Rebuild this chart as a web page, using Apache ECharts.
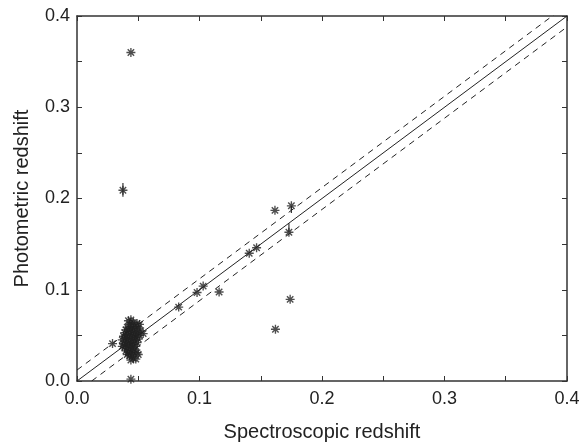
<!DOCTYPE html>
<html><head><meta charset="utf-8">
<script src="https://cdn.jsdelivr.net/npm/echarts@6/dist/echarts.min.js"></script>
<style>html,body{margin:0;padding:0;background:#fff}#c{width:580px;height:447px}</style>
</head><body><div id="c"></div>
<script>
// Outlying / individual points [spec z, photo z]
const isolatedPoints = [
  [0.044, 0.360], [0.0375, 0.209], [0.1616, 0.187], [0.175, 0.192], [0.173, 0.163],
  [0.1466, 0.146], [0.1406, 0.140], [0.103, 0.104], [0.098, 0.097], [0.116, 0.0975],
  [0.083, 0.081], [0.174, 0.0895], [0.162, 0.0567], [0.029, 0.041], [0.044, 0.002],
  [0.054, 0.052], [0.048, 0.024]
];
// Dense cluster near z ~ 0.04-0.05
const clusterPoints = [
  [0.042, 0.066], [0.044, 0.067], [0.046, 0.064], [0.049, 0.063], [0.051, 0.062],
  [0.043, 0.062], [0.045, 0.060], [0.047, 0.060], [0.041, 0.059], [0.050, 0.058],
  [0.040, 0.056], [0.042, 0.056], [0.044, 0.057], [0.046, 0.055], [0.048, 0.056],
  [0.039, 0.053], [0.041, 0.052], [0.043, 0.053], [0.045, 0.052], [0.047, 0.051],
  [0.049, 0.053], [0.051, 0.050], [0.038, 0.049], [0.040, 0.048], [0.042, 0.049],
  [0.044, 0.048], [0.046, 0.047], [0.048, 0.048], [0.050, 0.046], [0.037, 0.045],
  [0.039, 0.044], [0.041, 0.045], [0.043, 0.044], [0.045, 0.043], [0.047, 0.044],
  [0.049, 0.042], [0.038, 0.041], [0.040, 0.040], [0.042, 0.041], [0.044, 0.039],
  [0.046, 0.040], [0.048, 0.038], [0.039, 0.037], [0.041, 0.036], [0.043, 0.035],
  [0.045, 0.036], [0.047, 0.034], [0.040, 0.033], [0.042, 0.032], [0.044, 0.031],
  [0.046, 0.032], [0.049, 0.031], [0.041, 0.029], [0.043, 0.028], [0.045, 0.027],
  [0.050, 0.029], [0.046, 0.025], [0.044, 0.023], [0.052, 0.055], [0.037, 0.038]
];
// Error bars [x, yLow, yHigh]
const errorBars = [
  [0.0375, 0.202, 0.217], [0.175, 0.184, 0.192], [0.173, 0.163, 0.173]
];
const oneToOne = [[0, 0], [0.4, 0.4]];
const upperBound = [[0, 0.012], [0.4, 0.412]];
const lowerBound = [[0.012, 0], [0.4, 0.388]];
const tickLabels = ['0.0', '0.1', '0.2', '0.3', '0.4'];

const star = 'path://M-0.15,-1 L0.15,-1 L0.15,1 L-0.15,1 Z M-1,-0.15 L1,-0.15 L1,0.15 L-1,0.15 Z M-0.82,-0.6 L-0.6,-0.82 L0.82,0.6 L0.6,0.82 Z M0.6,-0.82 L0.82,-0.6 L-0.6,0.82 L-0.82,0.6 Z';
const axisCol = '#333';
function fmt(v){ const i = Math.round(v*10); return Math.abs(v*10 - i) < 1e-6 ? tickLabels[i] : ''; }
const common = {
  min: 0, max: 0.4, interval: 0.05,
  axisLine: {show: true, onZero: false, lineStyle: {color: axisCol, width: 1.5}},
  axisTick: {show: true, inside: true, length: 5, lineStyle: {color: axisCol}},
  splitLine: {show: false}
};
const chart = echarts.init(document.getElementById('c'));
chart.setOption({
  animation: false,
  grid: {left: 77, right: 13, top: 16, bottom: 66, containLabel: false, outerBoundsMode: 'none'},
  xAxis: [
    Object.assign({type: 'value', position: 'bottom', name: 'Spectroscopic redshift',
      nameLocation: 'middle', nameGap: 41,
      nameTextStyle: {fontFamily: 'Liberation Sans', fontSize: 20, color: '#222'},
      axisLabel: {formatter: fmt, fontFamily: 'Liberation Sans', fontSize: 18, color: '#222', margin: 9}}, common),
    Object.assign({type: 'value', position: 'top', axisLabel: {show: false}}, common)
  ],
  yAxis: [
    Object.assign({type: 'value', position: 'left', name: 'Photometric redshift',
      nameLocation: 'middle', nameGap: 45,
      nameTextStyle: {fontFamily: 'Liberation Sans', fontSize: 20, color: '#222'},
      axisLabel: {formatter: fmt, fontFamily: 'Liberation Sans', fontSize: 18, color: '#222', margin: 7}}, common),
    Object.assign({type: 'value', position: 'right', axisLabel: {show: false}}, common)
  ],
  series: [
    {type: 'line', data: oneToOne, symbol: 'none', clip: true, lineStyle: {color: '#222', width: 1}},
    {type: 'line', data: upperBound, symbol: 'none', clip: true, lineStyle: {color: '#222', width: 1, type: [6, 5]}},
    {type: 'line', data: lowerBound, symbol: 'none', clip: true, lineStyle: {color: '#222', width: 1, type: [6, 5]}},
    {type: 'custom', data: errorBars, clip: true,
      renderItem: function(params, api){
        const a = api.coord([api.value(0), api.value(1)]);
        const b = api.coord([api.value(0), api.value(2)]);
        return {type: 'line', shape: {x1: a[0], y1: a[1], x2: b[0], y2: b[1]}, style: {stroke: '#333', lineWidth: 1.2}};
      }},
    {type: 'scatter', data: clusterPoints, symbol: star, symbolSize: 9, itemStyle: {color: '#222'}},
    {type: 'scatter', data: isolatedPoints, symbol: star, symbolSize: 9, itemStyle: {color: '#222'}}
  ]
});
</script></body></html>
